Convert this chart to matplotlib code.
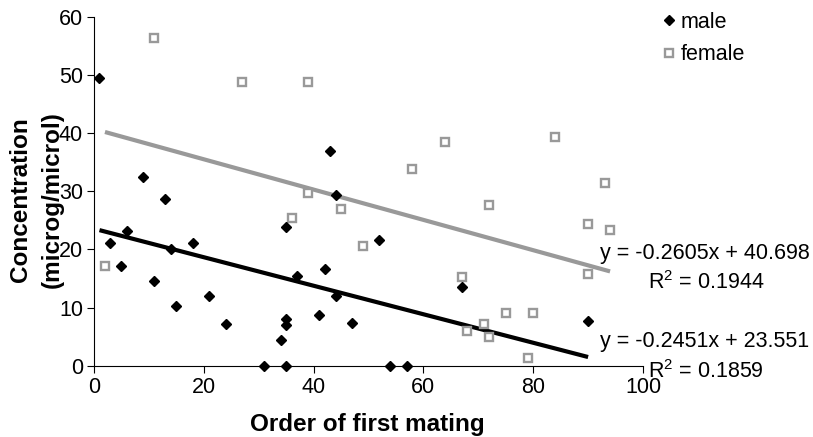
import matplotlib
matplotlib.use('Agg')
import matplotlib.pyplot as plt
import numpy as np
from matplotlib.lines import Line2D

plt.rcParams['font.family'] = ['Liberation Sans', 'DejaVu Sans']

# Order of first mating vs. concentration (microg/microl)
male_x = [1, 3, 5, 6, 9, 11, 13, 14, 15, 18, 21, 24, 31, 34, 35, 35, 35, 35,
          37, 41, 42, 43, 44, 44, 47, 52, 54, 57, 67, 90]
male_y = [49.5, 21.1, 17.1, 23.2, 32.4, 14.5, 28.7, 20.1, 10.3, 21.1, 12.0, 7.2,
          0, 4.4, 23.8, 8.1, 7.0, 0, 15.5, 8.7, 16.6, 36.9, 29.4, 11.9, 7.3,
          21.6, 0, 0, 13.5, 7.7]

female_x = [2, 11, 27, 36, 39, 39, 45, 49, 58, 64, 67, 68, 71, 72, 72, 75, 79,
            80, 84, 90, 90, 93, 94]
female_y = [17.1, 56.3, 48.7, 25.4, 48.7, 29.7, 26.9, 20.6, 33.8, 38.5, 15.3,
            6.0, 7.2, 4.9, 27.7, 9.0, 1.4, 9.0, 39.4, 24.4, 15.7, 31.4, 23.4]

# linear trendlines (slope, intercept, R^2)
male_fit = (-0.2451, 23.551, 0.1859)
female_fit = (-0.2605, 40.698, 0.1944)

GRAY = '#999999'
FS = 15.5

fig = plt.figure(figsize=(8.13, 4.37), dpi=100)
ax = fig.add_axes([94 / 813, 1 - 365.7 / 437, (643 - 94) / 813, (365.7 - 16.7) / 437])

# trendlines first, under the points
for xs, fit, col in [(male_x, male_fit, 'black'), (female_x, female_fit, GRAY)]:
    xl = np.array([min(xs), max(xs)])
    ax.plot(xl, fit[0] * xl + fit[1], color=col, lw=3, solid_capstyle='butt', zorder=2)

ax.plot(female_x, female_y, 's', ms=6, mfc='white', mec=GRAY, mew=1.7,
        ls='none', clip_on=False, zorder=3)
ax.plot(male_x, male_y, 'D', ms=5.5, color='black', ls='none', clip_on=False, zorder=4)

ax.set_xlim(0, 100)
ax.set_ylim(0, 60)
ax.set_xticks(range(0, 101, 20))
ax.set_yticks(range(0, 61, 10))
ax.spines['top'].set_visible(False)
ax.spines['right'].set_visible(False)
for s in ('left', 'bottom'):
    ax.spines[s].set_linewidth(0.8)
ax.tick_params(direction='out', length=5, width=0.8, labelsize=FS, pad=3)

fig.text(367.5 / 813, 1 - 425 / 437, 'Order of first mating', ha='center', va='center',
         fontsize=17.5, fontweight='bold')
fig.text(21 / 813, 1 - 200 / 437, 'Concentration', rotation=90, ha='center',
         va='center', fontsize=17.5, fontweight='bold')
fig.text(52 / 813, 1 - 200 / 437, '(microg/microl)', rotation=90, ha='center',
         va='center', fontsize=17.5, fontweight='bold')

# trendline equations
def eq_text(fit):
    return 'y = %.4fx + %.3f' % (fit[0], fit[1])

fig.text(600 / 813, 1 - 253 / 437, eq_text(female_fit), ha='left', va='center', fontsize=FS)
fig.text(648 / 813, 1 - 283 / 437, '$\\mathregular{R^2}$ = %.4f' % female_fit[2],
         ha='left', va='center', fontsize=FS)
fig.text(600 / 813, 1 - 342 / 437, eq_text(male_fit), ha='left', va='center', fontsize=FS)
fig.text(648 / 813, 1 - 372 / 437, '$\\mathregular{R^2}$ = %.4f' % male_fit[2],
         ha='left', va='center', fontsize=FS)

handles = [Line2D([], [], marker='D', ms=5.5, color='black', ls='none'),
           Line2D([], [], marker='s', ms=6, mfc='white', mec=GRAY, mew=1.7, ls='none')]
fig.legend(handles, ['male', 'female'], loc='upper left',
           bbox_to_anchor=(653 / 813, 1 - 3 / 437), frameon=False, fontsize=FS,
           handlelength=0.7, handletextpad=0.2, labelspacing=0.55, borderaxespad=0)

fig.savefig('out.png', dpi=100)
